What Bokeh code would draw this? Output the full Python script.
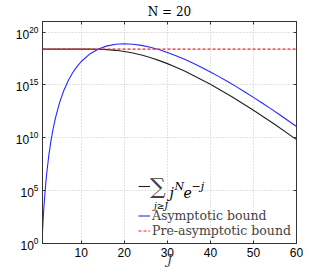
from bokeh.plotting import figure
from bokeh.models import (Range1d, FixedTicker, LogTickFormatter, LinearAxis,
                          Legend, LegendItem, Label, CustomJSTickFormatter)
from bokeh.embed import file_html
from bokeh.resources import INLINE

# ---- data (log10 of the values) ----
J_asym = [1, 1.25, 1.5, 1.75, 2, 2.5, 3, 3.5, 4, 5, 6, 7, 8, 9, 10,
          12, 14, 16, 18, 20, 22, 24, 26, 28, 30, 32, 34, 36, 38, 40,
          42, 44, 46, 48, 50, 52, 54, 56, 58, 60]
asym_log10 = [1.126, 2.955, 4.431, 5.661, 6.712, 8.433, 9.799, 10.921, 11.864,
              13.368, 14.517, 15.422, 16.148, 16.736, 17.217,
              17.932, 18.403, 18.693, 18.848, 18.895, 18.854, 18.741, 18.567,
              18.343, 18.073, 17.766, 17.424, 17.051, 16.653, 16.229,
              15.785, 15.320, 14.837, 14.339, 13.824, 13.297, 12.756, 12.204,
              11.640, 11.065]

J_sum = [1, 6, 10, 12, 14, 16, 18, 20, 22, 24, 26, 28, 30, 32, 34, 40, 45, 50, 55, 60]
sum_log10 = [18.386, 18.386, 18.386, 18.383, 18.371, 18.338, 18.273, 18.167,
             18.018, 17.825, 17.592, 17.322, 17.015, 16.678, 16.311, 15.065,
             13.888, 12.610, 11.251, 9.822]

J_pre = [1, 60]
pre_log10 = [18.386, 18.386]

x_ticks = [10, 20, 30, 40, 50, 60]
y_ticks = [1e0, 1e5, 1e10, 1e15, 1e20]

title_text = "N = 20"
label_asym = "Asymptotic bound"
label_pre = "Pre-asymptotic bound"

# ---- figure ----
AX = "#333333"
p = figure(frame_width=254, frame_height=222, y_axis_type="log",
           x_range=Range1d(1, 60), y_range=Range1d(1, 1e21),
           output_backend="svg", toolbar_location=None,
           min_border_left=42, min_border_top=21, min_border_right=15,
           min_border_bottom=24)
p.background_fill_color = "white"
p.outline_line_color = AX

p.title.text = title_text
p.title.align = "center"
p.title.text_font = "DejaVu Serif"
p.title.text_font_style = "normal"
p.title.text_font_size = "12px"
p.title.text_color = "black"
p.title.standoff = 5

for ax in (p.xaxis[0], p.yaxis[0]):
    ax.major_tick_in = 3
    ax.major_tick_out = 0
    ax.minor_tick_line_color = None
    ax.axis_line_color = AX
    ax.major_tick_line_color = AX
    ax.major_label_text_font = "Liberation Sans"
    ax.major_label_text_font_size = "12px"
    ax.major_label_text_color = "black"

p.xaxis.ticker = FixedTicker(ticks=x_ticks)
p.yaxis.ticker = FixedTicker(ticks=y_ticks)
p.yaxis.formatter = LogTickFormatter()
p.xaxis.major_label_standoff = 4
p.yaxis.major_label_standoff = 4
p.xaxis.axis_label = "J"
p.xaxis.axis_label_text_font = "DejaVu Serif"
p.xaxis.axis_label_text_font_style = "italic"
p.xaxis.axis_label_text_font_size = "13px"
p.xaxis.axis_label_standoff = -8

blank = CustomJSTickFormatter(code="return ''")
top_ax = LinearAxis(ticker=FixedTicker(ticks=x_ticks), formatter=blank,
                    major_tick_in=3, major_tick_out=0, minor_tick_line_color=None,
                    axis_line_color=AX, major_tick_line_color=AX, major_label_standoff=0)
right_ax = LinearAxis(ticker=FixedTicker(ticks=y_ticks), formatter=blank,
                      major_tick_in=3, major_tick_out=0, minor_tick_line_color=None,
                      axis_line_color=AX, major_tick_line_color=AX, major_label_standoff=0)
p.add_layout(top_ax, "above")
p.add_layout(right_ax, "right")

p.xgrid.ticker = FixedTicker(ticks=x_ticks)
p.ygrid.ticker = FixedTicker(ticks=y_ticks)
for g in (p.xgrid[0], p.ygrid[0]):
    g.grid_line_color = "#c4c4c4"
    g.grid_line_dash = "1 2"
    g.grid_line_width = 1
p.ygrid.minor_grid_line_color = None

# ---- lines ----
r_sum = p.line(J_sum, [10 ** v for v in sum_log10], line_color="#222222", line_width=1.1)
r_asym = p.line(J_asym, [10 ** v for v in asym_log10], line_color="#2828ff", line_width=1.1)
r_pre = p.line(J_pre, [10 ** v for v in pre_log10], line_color="#ff1a1a", line_width=1.2,
               line_dash="3 2")

# ---- legends ----
leg1 = Legend(items=[LegendItem(label="\u2211", renderers=[r_sum])],
              location=(96, 43), orientation="vertical",
              label_text_font="DejaVu Serif", label_text_font_size="22px",
              glyph_width=12, glyph_height=28, label_height=28, label_standoff=0,
              padding=0, margin=0, spacing=0,
              background_fill_alpha=0, border_line_color=None)
leg2 = Legend(items=[LegendItem(label=label_asym, renderers=[r_asym]),
                     LegendItem(label=label_pre, renderers=[r_pre])],
              location=(96, 5), orientation="vertical",
              label_text_font="DejaVu Serif", label_text_font_size="12.5px",
              glyph_width=12, glyph_height=13, label_height=13, label_standoff=2,
              padding=0, margin=0, spacing=0,
              background_fill_alpha=0, border_line_color=None)
p.add_layout(leg1, "center")
p.add_layout(leg2, "center")

def lab(text, x, y, size, italic=True, align="left", baseline="alphabetic"):
    p.add_layout(Label(x=x, y=y, x_units="screen", y_units="screen", text=text,
                       text_font="DejaVu Serif", text_font_size=size,
                       text_font_style="italic" if italic else "normal",
                       text_align=align, text_baseline=baseline, text_color="black"))

lab("j", 127, 51, "14px")
lab("N", 132, 57, "11px")
lab("e", 141, 51, "14px")
lab("\u2212j", 149, 57, "11px")
lab("j\u2265J", 118.5, 38, "9px", align="center")

open("out.html", "w").write(file_html(p, INLINE))
